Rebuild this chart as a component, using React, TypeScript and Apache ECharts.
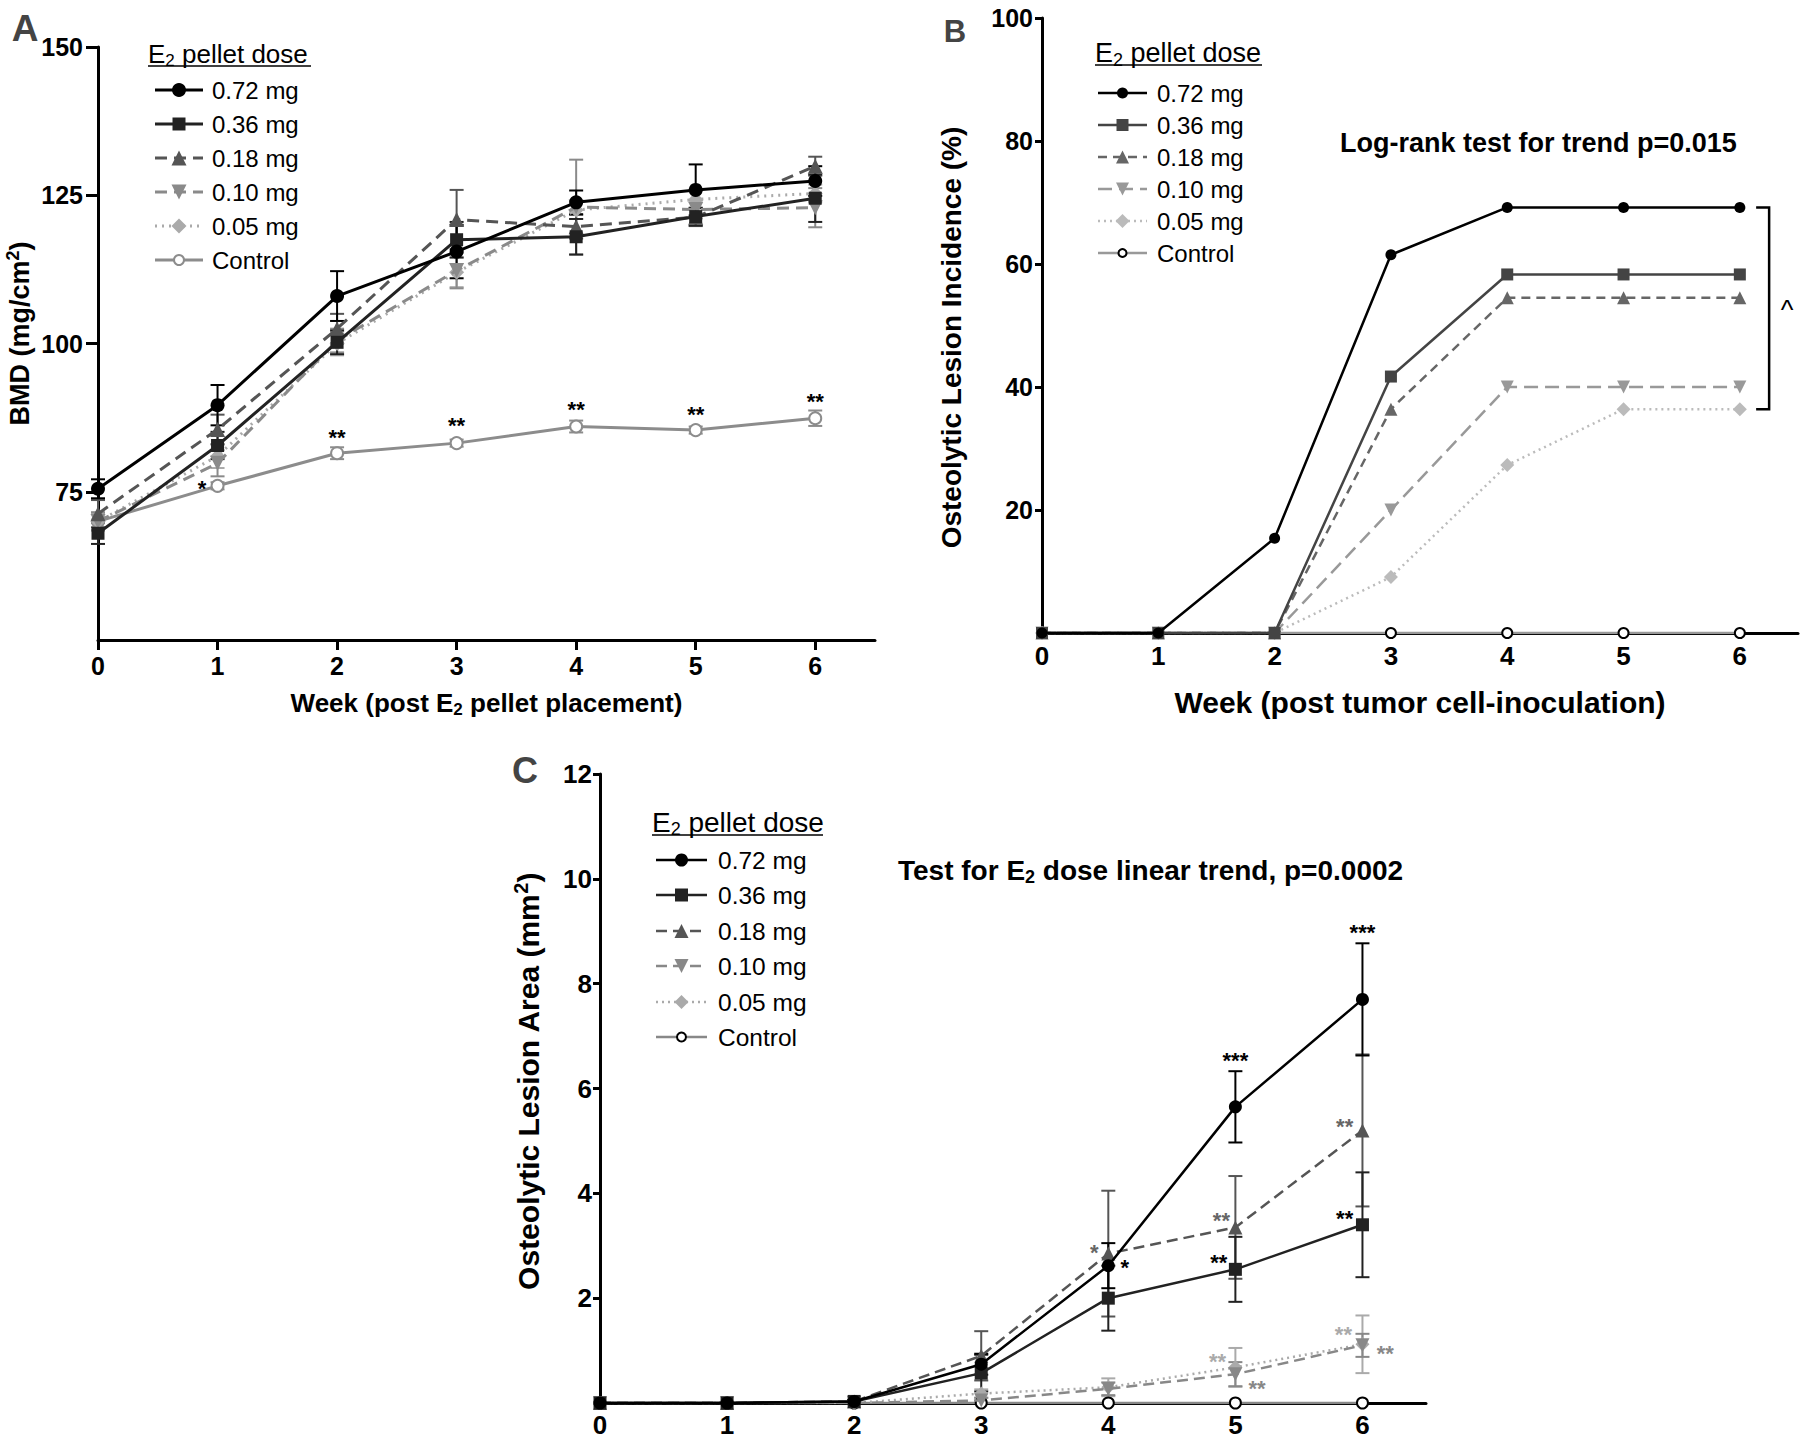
import React, { useEffect, useRef } from "react";
import * as echarts from "echarts";

const FONT = '"Liberation Sans", Arial, Helvetica, sans-serif';

// ---------- shared ----------
const weeks = [0, 1, 2, 3, 4, 5, 6];
const weekTicks = [0, 1, 2, 3, 4, 5, 6];
const legendNames = ["0.72 mg", "0.36 mg", "0.18 mg", "0.10 mg", "0.05 mg", "Control"];

// ---------- Panel A: BMD (mg/cm²) ----------
const bmd072 = [75.5, 89.6, 108.0, 115.5, 123.8, 125.9, 127.4];
const bmd072Err = [1.6, 3.4, 4.2, 4.5, 2.0, 4.3, 2.5];
const bmd036 = [68.0, 82.8, 100.2, 117.5, 118.0, 121.4, 124.5];
const bmd036Err = [1.8, 2.3, 2.0, 3.0, 3.0, 1.5, 4.0];
const bmd018 = [71.3, 85.5, 102.5, 120.9, 119.7, 121.3, 129.9];
const bmd018Err = [2.3, 2.5, 2.5, 5.0, 2.0, 1.5, 1.6];
const bmd010 = [70.0, 79.8, 100.5, 112.3, 123.0, 122.6, 122.9];
const bmd010Err = [1.5, 2.2, 2.0, 3.0, 8.0, 1.5, 3.3];
const bmd005 = [70.0, 81.0, 100.0, 112.0, 122.5, 124.3, 125.3];
const bmd005Err = [1.5, 2.0, 2.0, 2.5, 1.5, 1.5, 1.5];
const bmdCtrl = [70.0, 76.0, 81.5, 83.2, 86.0, 85.4, 87.4];
const bmdCtrlErr = [1.5, 0.6, 1.0, 0.6, 1.0, 0.6, 1.3];
const bmdTicks = [75, 100, 125, 150];
const bmdStarPts = [[0.87, 76.5], [2, 85.2], [3, 87.1], [4, 89.8], [5, 89.1], [6, 91.2]];
const bmdStarText = ["*", "**", "**", "**", "**", "**"];

// ---------- Panel B: incidence (%) ----------
const inc072 = [0, 0, 15.4, 61.5, 69.2, 69.2, 69.2];
const inc036 = [0, 0, 0, 41.7, 58.3, 58.3, 58.3];
const inc018 = [0, 0, 0, 36.4, 54.5, 54.5, 54.5];
const inc010 = [0, 0, 0, 20.0, 40.0, 40.0, 40.0];
const inc005 = [0, 0, 0, 9.1, 27.3, 36.4, 36.4];
const incCtrl = [0, 0, 0, 0, 0, 0, 0];
const incTicks = [20, 40, 60, 80, 100];
const incBracket = [[6.14, 69.2, 36.4]];

// ---------- Panel C: lesion area (mm²) ----------
const area072 = [0, 0, 0.03, 0.74, 2.62, 5.65, 7.7];
const area072Err = [0, 0, 0.02, 0.2, 0.43, 0.68, 1.07];
const area036 = [0, 0, 0.03, 0.57, 2.0, 2.55, 3.4];
const area036Err = [0, 0, 0.02, 0.35, 0.62, 0.62, 1.0];
const area018 = [0, 0, 0.03, 0.9, 2.85, 3.35, 5.2];
const area018Err = [0, 0, 0.02, 0.47, 1.2, 0.98, 1.45];
const area010 = [0, 0, 0, 0.05, 0.27, 0.55, 1.1];
const area010Err = [0, 0, 0, 0.05, 0.12, 0.23, 0.22];
const area005 = [0, 0, 0, 0.18, 0.3, 0.68, 1.12];
const area005Err = [0, 0, 0, 0.08, 0.17, 0.37, 0.55];
const areaCtrl = [0, 0, 0, 0, 0, 0, 0];
const areaTicks = [2, 4, 6, 8, 10, 12];
const areaStarPts = [
  [3.89, 2.98], [4.13, 2.69], [5.0, 6.64], [6.0, 9.1], [4.89, 3.59], [4.87, 2.79],
  [4.86, 0.9], [5.17, 0.4], [5.86, 5.38], [5.86, 3.64], [5.85, 1.43], [6.18, 1.05],
];
const areaStarText = ["*", "*", "***", "***", "**", "**", "**", "**", "**", "**", "**", "**"];
const areaStarColor = ["#666", "#000", "#000", "#000", "#666", "#000", "#aaa", "#888", "#666", "#000", "#aaa", "#888"];

// ---------- styles ----------
type St = { color: string; marker: string; size: number; dash: any; lineColor?: string };
const stylesA: St[] = [
  { color: "#000", marker: "circle", size: 14, dash: "solid" },
  { color: "#222", marker: "rect", size: 13, dash: "solid" },
  { color: "#555", marker: "triangle", size: 15, dash: [12, 7] },
  { color: "#8a8a8a", marker: "down", size: 15, dash: [12, 7] },
  { color: "#aaa", marker: "diamond", size: 15, dash: [2, 5] },
  { color: "#8c8c8c", marker: "empty", size: 12, dash: "solid" },
];
const stylesB: St[] = [
  { color: "#000", marker: "circle", size: 11, dash: "solid" },
  { color: "#444", marker: "rect", size: 12, dash: "solid" },
  { color: "#666", marker: "triangle", size: 13, dash: [9, 6] },
  { color: "#999", marker: "down", size: 13, dash: [14, 7] },
  { color: "#bbb", marker: "diamond", size: 14, dash: [2, 4] },
  { color: "#000", marker: "empty", size: 10, dash: "solid", lineColor: "#999" },
];
const stylesC: St[] = [
  { color: "#000", marker: "circle", size: 13, dash: "solid" },
  { color: "#222", marker: "rect", size: 13, dash: "solid" },
  { color: "#555", marker: "triangle", size: 14, dash: [11, 6] },
  { color: "#888", marker: "down", size: 14, dash: [11, 6] },
  { color: "#aaa", marker: "diamond", size: 14, dash: [2, 4] },
  { color: "#000", marker: "empty", size: 11, dash: "solid", lineColor: "#888" },
];

const pts = (vals: number[]) => weeks.map((w, i) => [w, vals[i]]);

function lineSeries(name: string, vals: number[], idx: number, st: St, lw: number, z: number) {
  const empty = st.marker === "empty";
  return {
    type: "line",
    name,
    xAxisIndex: idx,
    yAxisIndex: idx,
    data: pts(vals),
    z,
    silent: true,
    symbol: st.marker === "down" ? "triangle" : empty ? "emptyCircle" : st.marker,
    symbolRotate: st.marker === "down" ? 180 : 0,
    symbolSize: st.size,
    showSymbol: true,
    lineStyle: { color: st.lineColor ?? st.color, width: lw, type: st.dash },
    itemStyle: empty ? { color: st.color, borderColor: st.color, borderWidth: 2 } : { color: st.color },
  };
}

function errSeries(means: number[], errs: number[], idx: number, color: string, capHalf: number, lw: number, z: number) {
  return {
    type: "custom",
    xAxisIndex: idx,
    yAxisIndex: idx,
    z,
    silent: true,
    data: weeks.map((w, i) => [w, means[i], errs[i]]),
    renderItem: (params: any, api: any) => {
      const x = api.value(0);
      const m = api.value(1);
      const e = api.value(2);
      if (!e) return { type: "group", children: [] };
      const p1 = api.coord([x, m + e]);
      const p2 = api.coord([x, m - e]);
      const style = { stroke: color, lineWidth: lw };
      return {
        type: "group",
        children: [
          { type: "line", shape: { x1: p1[0], y1: p1[1], x2: p2[0], y2: p2[1] }, style },
          { type: "line", shape: { x1: p1[0] - capHalf, y1: p1[1], x2: p1[0] + capHalf, y2: p1[1] }, style },
          { type: "line", shape: { x1: p2[0] - capHalf, y1: p2[1], x2: p2[0] + capHalf, y2: p2[1] }, style },
        ],
      };
    },
  };
}

function starSeries(idx: number, data: number[][], texts: string[], colors: string[] | null, fontSize: number) {
  return {
    type: "custom",
    xAxisIndex: idx,
    yAxisIndex: idx,
    z: 20,
    silent: true,
    data,
    renderItem: (params: any, api: any) => {
      const c = api.coord([api.value(0), api.value(1)]);
      const i = params.dataIndex;
      return {
        type: "text",
        x: c[0],
        y: c[1] + 6,
        style: {
          text: texts[i],
          fill: colors ? colors[i] : "#000",
          fontSize,
          fontWeight: "bold",
          fontFamily: FONT,
          align: "center",
          verticalAlign: "middle",
        },
      };
    },
  };
}

function markerEl(st: St, cx: number, cy: number) {
  const s = st.size;
  const h = s / 2;
  switch (st.marker) {
    case "circle":
      return { type: "circle", shape: { cx, cy, r: h }, style: { fill: st.color } };
    case "rect":
      return { type: "rect", shape: { x: cx - h, y: cy - h, width: s, height: s }, style: { fill: st.color } };
    case "triangle":
      return { type: "polygon", shape: { points: [[cx, cy - h], [cx + h, cy + h], [cx - h, cy + h]] }, style: { fill: st.color } };
    case "down":
      return { type: "polygon", shape: { points: [[cx - h, cy - h], [cx + h, cy - h], [cx, cy + h]] }, style: { fill: st.color } };
    case "diamond":
      return { type: "polygon", shape: { points: [[cx, cy - h], [cx + h, cy], [cx, cy + h], [cx - h, cy]] }, style: { fill: st.color } };
    default:
      return { type: "circle", shape: { cx, cy, r: h - 1 }, style: { fill: "#fff", stroke: st.color, lineWidth: 2 } };
  }
}

function legendBlock(cfg: any) {
  const { titleX, titleY, titleSize, underlineW, underlineDy, rows, x0, x1, tx, entrySize, styles, lw } = cfg;
  const els: any[] = [];
  els.push({
    type: "text",
    x: titleX,
    y: titleY,
    style: {
      text: "{t|E}{s|2}{t| pellet dose}",
      align: "left",
      verticalAlign: "middle",
      rich: {
        t: { fontSize: titleSize, fontFamily: FONT, fill: "#000", lineHeight: titleSize + 4 },
        s: { fontSize: Math.round(titleSize * 0.65), fontFamily: FONT, fill: "#000", verticalAlign: "bottom", lineHeight: 10 },
      },
    },
  });
  els.push({
    type: "line",
    shape: { x1: titleX, y1: titleY + underlineDy, x2: titleX + underlineW, y2: titleY + underlineDy },
    style: { stroke: "#000", lineWidth: 1.5 },
  });
  rows.forEach((y: number, i: number) => {
    const st: St = styles[i];
    els.push({
      type: "line",
      shape: { x1: x0, y1: y, x2: x1, y2: y },
      style: { stroke: st.lineColor ?? st.color, lineWidth: lw, lineDash: Array.isArray(st.dash) ? st.dash : null },
    });
    els.push(markerEl(st, (x0 + x1) / 2, y));
    els.push({
      type: "text",
      x: tx,
      y,
      style: { text: legendNames[i], fontSize: entrySize, fontFamily: FONT, fill: "#000", align: "left", verticalAlign: "middle" },
    });
  });
  return els;
}

function xAxisCfg(idx: number, opts: any) {
  return {
    type: "value",
    gridIndex: idx,
    min: 0,
    max: 6.5,
    interval: 1,
    splitLine: { show: false },
    axisLine: { show: true, onZero: false, lineStyle: { color: "#000", width: opts.lw } },
    axisTick: { show: true, customValues: weekTicks, length: opts.tickLen, lineStyle: { color: "#000", width: opts.lw } },
    axisLabel: {
      customValues: weekTicks,
      fontSize: opts.fontSize,
      fontWeight: "bold",
      color: "#000",
      fontFamily: FONT,
      margin: opts.margin,
    },
    ...(opts.name
      ? {
          name: opts.name,
          nameLocation: "middle",
          nameGap: opts.nameGap,
          nameTextStyle: { rich: opts.rich },
        }
      : {}),
  };
}

function yAxisCfg(idx: number, opts: any) {
  return {
    type: "value",
    gridIndex: idx,
    min: opts.min,
    max: opts.max,
    interval: opts.interval,
    splitLine: { show: false },
    axisLine: { show: true, onZero: false, lineStyle: { color: "#000", width: opts.lw } },
    axisTick: { show: true, customValues: opts.ticks, length: opts.tickLen, lineStyle: { color: "#000", width: opts.lw } },
    axisLabel: {
      customValues: opts.ticks,
      fontSize: opts.fontSize,
      fontWeight: "bold",
      color: "#000",
      fontFamily: FONT,
      margin: opts.margin,
    },
    name: opts.name,
    nameLocation: "middle",
    nameRotate: 90,
    nameGap: opts.nameGap,
    nameTextStyle: { padding: opts.namePad, rich: opts.rich },
  };
}

const boldTok = (size: number) => ({ fontSize: size, fontWeight: "bold", color: "#000", fontFamily: FONT, lineHeight: size + 4 });
const subTok = (size: number) => ({ fontSize: Math.round(size * 0.65), fontWeight: "bold", color: "#000", fontFamily: FONT, verticalAlign: "bottom", lineHeight: 10 });
const supTok = (size: number) => ({ fontSize: Math.round(size * 0.65), fontWeight: "bold", color: "#000", fontFamily: FONT, verticalAlign: "top", lineHeight: 10 });

function buildOption() {
  const series: any[] = [];
  // Panel A
  const aVals = [bmd072, bmd036, bmd018, bmd010, bmd005, bmdCtrl];
  const aErrs = [bmd072Err, bmd036Err, bmd018Err, bmd010Err, bmd005Err, bmdCtrlErr];
  for (let i = 5; i >= 0; i--) {
    series.push(errSeries(aVals[i], aErrs[i], 0, stylesA[i].color, 7, 2, 1));
  }
  for (let i = 5; i >= 0; i--) {
    series.push(lineSeries(legendNames[i], aVals[i], 0, stylesA[i], 3, 5 + (5 - i)));
  }
  series.push(starSeries(0, bmdStarPts, bmdStarText, null, 22));

  // Panel B
  const bVals = [inc072, inc036, inc018, inc010, inc005, incCtrl];
  for (let i = 5; i >= 0; i--) {
    series.push(lineSeries(legendNames[i] + " ", bVals[i], 1, stylesB[i], 2.5, 5 + (5 - i)));
  }
  series.push({
    type: "custom",
    xAxisIndex: 1,
    yAxisIndex: 1,
    silent: true,
    z: 20,
    data: incBracket,
    renderItem: (params: any, api: any) => {
      const x = api.value(0);
      const a = api.coord([x, api.value(1)]);
      const b = api.coord([x, api.value(2)]);
      const armX = a[0] + 13;
      return {
        type: "group",
        children: [
          {
            type: "polyline",
            shape: { points: [[a[0], a[1]], [armX, a[1]], [armX, b[1]], [a[0], b[1]]] },
            style: { stroke: "#000", lineWidth: 2.5, fill: null },
          },
          {
            type: "text",
            x: armX + 18,
            y: (a[1] + b[1]) / 2 + 2,
            style: { text: "^", fontSize: 27, fontFamily: FONT, fill: "#000", align: "center", verticalAlign: "middle" },
          },
        ],
      };
    },
  });

  // Panel C
  const cVals = [area072, area036, area018, area010, area005, areaCtrl];
  const cErrs = [area072Err, area036Err, area018Err, area010Err, area005Err, null];
  for (let i = 4; i >= 0; i--) {
    series.push(errSeries(cVals[i], cErrs[i] as number[], 2, stylesC[i].color, 7, 2, 1));
  }
  for (let i = 5; i >= 0; i--) {
    series.push(lineSeries(legendNames[i] + "  ", cVals[i], 2, stylesC[i], 2.5, 5 + (5 - i)));
  }
  series.push(starSeries(2, areaStarPts, areaStarText, areaStarColor, 22));

  const graphic: any[] = [
    { type: "text", x: 25, y: 28, style: { text: "A", fontSize: 37, fontWeight: "bold", fontFamily: FONT, fill: "#444", align: "center", verticalAlign: "middle" } },
    { type: "text", x: 955, y: 31, style: { text: "B", fontSize: 31, fontWeight: "bold", fontFamily: FONT, fill: "#444", align: "center", verticalAlign: "middle" } },
    { type: "text", x: 525, y: 770, style: { text: "C", fontSize: 36, fontWeight: "bold", fontFamily: FONT, fill: "#444", align: "center", verticalAlign: "middle" } },
    {
      type: "text",
      x: 1340,
      y: 143,
      style: { text: "Log-rank test for trend p=0.015", fontSize: 27, fontWeight: "bold", fontFamily: FONT, fill: "#000", align: "left", verticalAlign: "middle" },
    },
    {
      type: "text",
      x: 898,
      y: 870,
      style: {
        text: "{b|Test for E}{s|2}{b| dose linear trend, p=0.0002}",
        align: "left",
        verticalAlign: "middle",
        rich: {
          b: { fontSize: 28, fontWeight: "bold", fontFamily: FONT, fill: "#000", lineHeight: 32 },
          s: { fontSize: 18, fontWeight: "bold", fontFamily: FONT, fill: "#000", verticalAlign: "bottom", lineHeight: 10 },
        },
      },
    },
    ...legendBlock({
      titleX: 148, titleY: 54, titleSize: 26, underlineW: 163, underlineDy: 12,
      rows: [90, 124, 158, 192, 226, 260], x0: 155, x1: 203, tx: 212, entrySize: 24, styles: stylesA, lw: 3,
    }),
    ...legendBlock({
      titleX: 1095, titleY: 53, titleSize: 27, underlineW: 167, underlineDy: 12,
      rows: [93, 125, 157, 189, 221, 253], x0: 1098, x1: 1147, tx: 1157, entrySize: 24, styles: stylesB, lw: 2.5,
    }),
    ...legendBlock({
      titleX: 652, titleY: 822, titleSize: 28, underlineW: 171, underlineDy: 13,
      rows: [860, 895, 931, 966, 1002, 1037], x0: 656, x1: 707, tx: 718, entrySize: 24.5, styles: stylesC, lw: 2.5,
    }),
  ];

  return {
    animation: false,
    backgroundColor: "#fff",
    textStyle: { fontFamily: FONT },
    grid: [
      { left: 98, top: 47, width: 777, height: 593 },
      { left: 1042, top: 18, width: 756, height: 615 },
      { left: 600, top: 774, width: 826, height: 629 },
    ],
    xAxis: [
      xAxisCfg(0, {
        lw: 3, tickLen: 10, fontSize: 25, margin: 13, nameGap: 48,
        name: "{b|Week (post E}{s|2}{b| pellet placement)}",
        rich: { b: boldTok(26), s: subTok(26) },
      }),
      xAxisCfg(1, {
        lw: 3, tickLen: 6, fontSize: 26, margin: 10, nameGap: 52,
        name: "{b|Week (post tumor cell-inoculation)}",
        rich: { b: boldTok(30) },
      }),
      xAxisCfg(2, { lw: 3, tickLen: 6, fontSize: 26, margin: 9 }),
    ],
    yAxis: [
      yAxisCfg(0, {
        min: 50, max: 150, interval: 25, ticks: bmdTicks, lw: 3, tickLen: 12, fontSize: 25, margin: 15,
        name: "{b|BMD (mg/cm}{p|2}{b|)}", nameGap: 63, namePad: [0, 0, 0, 20],
        rich: { b: boldTok(27), p: supTok(27) },
      }),
      yAxisCfg(1, {
        min: 0, max: 100, interval: 20, ticks: incTicks, lw: 3, tickLen: 7, fontSize: 25, margin: 9,
        name: "{b|Osteolytic Lesion Incidence (%)}", nameGap: 75, namePad: [0, 24, 0, 0],
        rich: { b: boldTok(28) },
      }),
      yAxisCfg(2, {
        min: 0, max: 12, interval: 2, ticks: areaTicks, lw: 3, tickLen: 7, fontSize: 26, margin: 8,
        name: "{b|Osteolytic Lesion Area (mm}{p|2}{b|)}", nameGap: 55, namePad: [0, 0, 0, 14],
        rich: { b: boldTok(30), p: supTok(30) },
      }),
    ],
    series,
    graphic,
  };
}

export default function App() {
  const ref = useRef<HTMLDivElement>(null);
  useEffect(() => {
    if (!ref.current) return;
    const chart = echarts.init(ref.current, null, { renderer: "svg" });
    chart.setOption(buildOption() as any);
    return () => chart.dispose();
  }, []);
  return (
    <div
      ref={ref}
      style={{ position: "absolute", left: 0, top: 0, width: 1800, height: 1444, background: "#fff" }}
    />
  );
}
